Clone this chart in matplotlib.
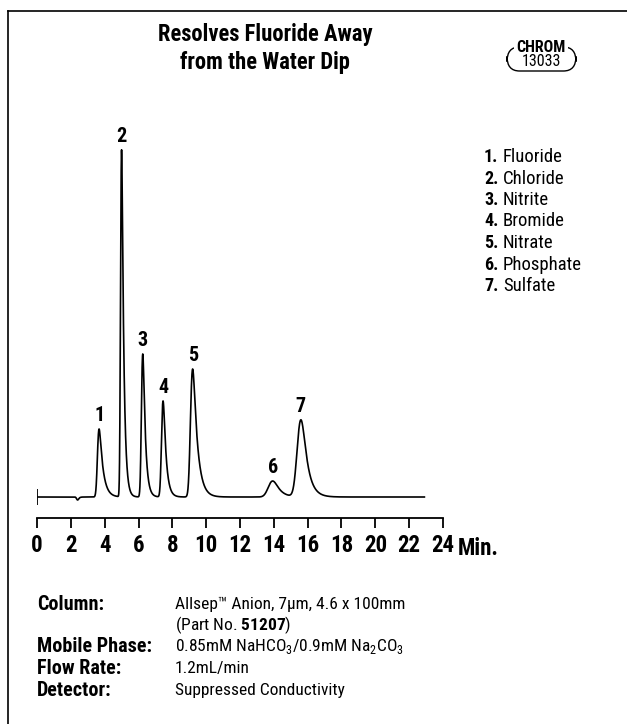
import numpy as np
import matplotlib
matplotlib.use("Agg")
import matplotlib.pyplot as plt
from matplotlib.lines import Line2D
from matplotlib.patches import FancyBboxPatch

plt.rcParams["font.family"] = ["Roboto Condensed", "DejaVu Sans"]
plt.rcParams["mathtext.fontset"] = "custom"
plt.rcParams["mathtext.rm"] = "Roboto Condensed"
plt.rcParams["mathtext.bf"] = "Roboto Condensed:bold"

# peak table (time in min, height in detector units)
peak_labels = ["1", "2", "3", "4", "5", "6", "7"]
peak_names = ["Fluoride", "Chloride", "Nitrite", "Bromide", "Nitrate", "Phosphate", "Sulfate"]
peak_times = [3.67, 5.00, 6.25, 7.45, 9.20, 13.93, 15.60]
peak_heights = [68, 347, 143, 96, 128, 16, 77]
peak_sigma = [0.07, 0.045, 0.06, 0.07, 0.095, 0.21, 0.18]
peak_tail = [0.22, 0.12, 0.14, 0.16, 0.26, 0.35, 0.32]

# water dip
dip_time = 2.4
dip_depth = -3
run_end = 22.9

tick_values = list(range(0, 25, 2))

conditions = [
    ("Column:", "Allsep\u2122 Anion, 7\u00b5m, 4.6 x 100mm"),
    ("", r"(Part No. $\mathbf{51207}$)"),
    ("Mobile Phase:", r"0.85mM NaHCO$_3$/0.9mM Na$_2$CO$_3$"),
    ("Flow Rate:", "1.2mL/min"),
    ("Detector:", "Suppressed Conductivity"),
]

dt = 0.002
t = np.arange(0, run_end + dt, dt)


def emg(t, t0, h, s, tau):
    u = np.arange(-6 * s, 6 * s + 14 * tau, dt)
    g = np.exp(-0.5 * (u / s) ** 2)
    k = np.exp(-np.arange(0, 12 * tau, dt) / tau)
    c = np.convolve(g, k)[:len(u)]
    c = c / c.max()
    apex = u[np.argmax(c)]
    return h * np.interp(t - t0 + apex, u, c, left=0, right=0)


signal = np.zeros_like(t)
for t0, h, s, tau in zip(peak_times, peak_heights, peak_sigma, peak_tail):
    signal += emg(t, t0, h, s, tau)
signal += emg(t, dip_time, dip_depth, 0.05, 0.06)

W, H = 627, 724
fig = plt.figure(figsize=(W / 100, H / 100), dpi=100)


def fx(x):
    return x / W


def fy(y):
    return 1 - y / H


# axes: x 0->37px, 24->443px ; bottom spine at 518px, top at 130px
ax = fig.add_axes([fx(37), fy(518), (443 - 37) / W, (518 - 130) / H])
ax.plot(t, signal, color="black", lw=1.2)
ax.vlines(0, -8, 8, color="black", lw=1.3)
ax.set_xlim(0, 24)
ax.set_ylim(-21, 367)
for sp in ["left", "right", "top"]:
    ax.spines[sp].set_visible(False)
ax.spines["bottom"].set_linewidth(1.3)
ax.set_yticks([])
ax.set_xticks(tick_values)
ax.set_xticklabels([str(v) for v in tick_values])
ax.tick_params(axis="x", direction="out", length=7.5, width=1.3, pad=4,
               labelsize=16.5)
for lab in ax.get_xticklabels():
    lab.set_fontweight("bold")
ax.patch.set_visible(False)

for lab, t0, h in zip(peak_labels, peak_times, peak_heights):
    ax.annotate(lab, (t0, h), xytext=(0, 3), textcoords="offset points",
                ha="center", va="bottom", fontsize=14.5, fontweight="bold")

fig.text(fx(458), fy(555), "Min.", fontsize=16.5, fontweight="bold",
         ha="left", va="baseline")

# title
fig.text(fx(265), fy(35), "Resolves Fluoride Away", fontsize=16.3,
         fontweight="bold", ha="center", va="center")
fig.text(fx(265), fy(62), "from the Water Dip", fontsize=16.3,
         fontweight="bold", ha="center", va="center")

# CHROM badge
badge = FancyBboxPatch((fx(507), fy(71)), (576 - 507) / W, (71 - 47) / H,
                       boxstyle="round,pad=0,rounding_size=0.02",
                       transform=fig.transFigure, fill=False, lw=1.0,
                       edgecolor="black")
fig.patches.append(badge)
fig.text(fx(541), fy(47), "CHROM", fontsize=11.5, fontweight="bold",
         ha="center", va="center",
         bbox=dict(boxstyle="square,pad=0.12", fc="white", ec="none"))
fig.text(fx(541), fy(61), "13033", fontsize=11.5, ha="center", va="center")

# peak name list
for i, (lab, name) in enumerate(zip(peak_labels, peak_names)):
    y = 157 + i * 21.5
    fig.text(fx(484), fy(y), lab + ".", fontsize=13, fontweight="bold",
             ha="left", va="center")
    fig.text(fx(503), fy(y), name, fontsize=13.5, ha="left", va="center")

# conditions block
for i, (key, val) in enumerate(conditions):
    y = 604 + i * 21.5
    if key:
        fig.text(fx(37), fy(y), key, fontsize=14.5, fontweight="bold",
                 ha="left", va="center")
    fig.text(fx(175), fy(y), val, fontsize=12.5, ha="left", va="center")

# frame lines
fig.add_artist(Line2D([fx(8), fx(8)], [fy(11), 0], transform=fig.transFigure,
                      color="black", lw=1.2))
fig.add_artist(Line2D([fx(8), 1], [fy(11), fy(11)], transform=fig.transFigure,
                      color="black", lw=1.2))

fig.savefig("out.png", dpi=100)
